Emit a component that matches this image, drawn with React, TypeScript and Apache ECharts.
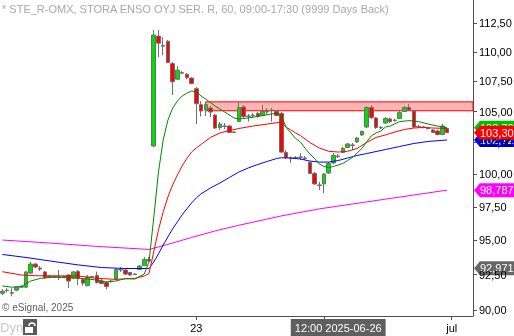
import { useEffect, useRef } from "react";
import * as echarts from "echarts";

const FONT = 'Arial, "Liberation Sans", sans-serif';

const title = "* STE_R-OMX, STORA ENSO OYJ SER. R, 60, 09:00-17:30 (9999 Days Back)";
const copyright = "\u00a9 eSignal, 2025";

const tradingDays = [
  "2025-06-13", "2025-06-16", "2025-06-17", "2025-06-18", "2025-06-19",
  "2025-06-23", "2025-06-24", "2025-06-25", "2025-06-26", "2025-06-27",
  "2025-06-30", "2025-07-01",
];
const sessionHours = ["09:00", "10:00", "11:00", "12:00", "13:00", "14:00", "15:00", "16:00", "17:00"];
const firstDayFrom = "13:00";
const lastDayTo = "13:00";
const tickDays = ["2025-06-23", "2025-06-26", "2025-07-01"];
const labelDays = ["2025-06-23", "2025-07-01"];
const monthNames = ["jan", "feb", "mar", "apr", "maj", "jun", "jul", "aug", "sep", "okt", "nov", "dec"];
const cursorTime = "2025-06-26 12:00";

// [open, high, low, close]
const ohlc: number[][] = [
  [91.18, 91.47, 91.04, 91.32], [91.40, 91.54, 91.25, 91.36], [91.18, 91.54, 90.96, 91.22],
  [91.40, 91.68, 91.32, 91.61], [91.61, 91.76, 91.54, 91.65], [91.61, 92.77, 91.54, 92.70],
  [92.62, 93.42, 92.55, 93.27], [93.27, 93.35, 92.98, 93.06], [92.98, 93.13, 92.77, 92.91],
  [92.70, 92.77, 92.19, 92.30], [92.37, 92.48, 92.26, 92.33], [92.37, 92.41, 92.26, 92.33],
  [92.37, 92.84, 92.12, 92.30], [92.37, 92.44, 92.26, 92.33], [92.48, 92.55, 91.54, 92.05],
  [92.26, 92.77, 92.19, 92.70], [92.73, 92.84, 91.76, 92.23], [92.15, 92.26, 91.72, 91.90],
  [91.72, 92.48, 91.68, 92.33], [92.37, 92.41, 92.26, 92.33], [92.44, 92.73, 91.87, 91.94],
  [92.05, 92.23, 91.83, 91.87], [91.94, 92.05, 91.47, 91.65], [92.05, 92.12, 91.94, 92.01],
  [92.19, 92.98, 92.12, 92.88], [92.88, 93.06, 92.70, 92.84], [92.84, 92.98, 92.48, 92.55],
  [92.66, 92.70, 92.44, 92.48], [92.55, 92.62, 92.48, 92.52], [92.88, 93.20, 92.84, 93.13],
  [93.16, 93.78, 93.13, 93.60], [93.60, 93.78, 93.42, 93.49],
  [102.24, 111.88, 102.16, 111.45], [111.36, 111.88, 109.55, 110.75], [110.54, 111.27, 109.72, 110.49],
  [110.92, 111.01, 109.04, 109.09], [109.00, 109.13, 106.37, 107.48], [107.69, 108.79, 107.61, 108.45],
  [108.24, 108.37, 108.11, 108.20], [108.11, 108.20, 107.69, 107.82], [107.78, 107.86, 107.28, 107.32],
  [106.90, 107.03, 104.00, 105.66], [105.58, 105.87, 104.61, 105.06], [105.14, 105.79, 104.65, 105.58],
  [105.30, 105.46, 104.57, 104.98], [104.73, 104.81, 103.60, 103.68], [103.72, 104.16, 103.52, 104.00],
  [103.84, 104.08, 103.60, 103.80], [103.84, 103.92, 103.28, 103.32], [103.36, 103.44, 103.28, 103.32],
  [104.20, 105.79, 104.16, 105.34], [105.38, 105.54, 104.49, 104.61], [104.65, 104.81, 104.20, 104.61],
  [104.73, 104.89, 104.49, 104.69], [104.85, 104.98, 104.53, 104.61], [104.69, 105.58, 104.65, 105.02],
  [105.02, 105.30, 104.73, 104.98], [105.14, 105.30, 104.20, 105.10], [105.02, 105.14, 104.65, 104.69],
  [104.85, 104.98, 101.68, 101.76], [101.72, 101.92, 101.21, 101.33], [101.29, 101.41, 100.90, 101.25],
  [101.33, 101.45, 101.21, 101.29], [101.37, 101.68, 101.13, 101.33], [101.29, 101.45, 101.13, 101.25],
  [100.94, 101.05, 100.04, 100.08], [100.08, 100.20, 99.19, 99.27], [99.19, 99.42, 98.80, 99.15],
  [99.27, 100.12, 98.57, 100.04], [100.12, 100.98, 100.04, 100.86], [100.90, 101.68, 100.82, 101.49],
  [101.45, 101.60, 101.29, 101.41], [101.72, 102.16, 101.68, 102.04], [102.12, 102.48, 102.08, 102.40],
  [102.32, 102.48, 101.92, 102.28], [102.56, 102.96, 102.48, 102.88], [103.12, 103.48, 103.04, 103.40],
  [103.76, 105.46, 103.68, 105.34], [105.34, 105.54, 104.41, 104.53], [104.49, 104.57, 103.60, 103.72],
  [103.72, 103.84, 103.60, 103.68], [104.08, 104.57, 104.00, 104.45], [104.41, 104.53, 104.08, 104.20],
  [104.32, 104.45, 104.20, 104.28], [104.45, 105.06, 104.41, 104.93], [105.02, 105.46, 104.98, 105.34],
  [105.34, 105.62, 105.06, 105.14], [105.06, 105.14, 103.68, 103.76], [103.80, 103.92, 103.68, 103.76],
  [103.76, 103.84, 103.64, 103.72], [103.68, 103.76, 103.56, 103.64], [103.52, 103.60, 103.28, 103.32],
  [103.44, 103.52, 103.08, 103.16], [103.16, 104.00, 103.12, 103.84], [103.64, 103.72, 103.28, 103.30],
];

// moving averages: [bar index, price]
const fastMA: number[][] = [
  [0, 91.70], [2, 91.61], [4, 91.65], [5, 91.87], [6, 92.05], [8, 92.24], [11, 92.33], [16, 92.26],
  [20, 92.12], [22, 91.98], [24, 92.05], [26, 92.23], [28, 92.19], [30, 92.55], [31, 93.42],
  [32, 96.68], [33, 100.19], [34, 102.72], [35, 104.32], [36, 105.30], [37, 105.87], [38, 106.29],
  [39, 106.53], [40, 106.70], [41, 106.66], [42, 106.29], [43, 106.03], [44, 105.75], [45, 105.46],
  [47, 104.98], [49, 104.49], [50, 104.41], [52, 104.49], [55, 104.69], [58, 104.89], [59, 104.67],
  [60, 103.72], [61, 103.28], [62, 102.84], [63, 102.56], [64, 102.06], [65, 101.61], [66, 101.25],
  [67, 100.82], [68, 100.62], [69, 100.55], [70, 100.62], [71, 100.74], [72, 100.86], [73, 101.09],
  [74, 101.33], [75, 101.68], [76, 102.04], [77, 102.56], [78, 103.04], [79, 103.28], [80, 103.44],
  [81, 103.76], [82, 103.84], [84, 104.20], [86, 104.28], [88, 104.20], [90, 104.00], [92, 103.84],
  [94, 103.70],
];
const midMA: number[][] = [
  [0, 92.72], [4, 92.48], [7, 92.43], [16, 92.41], [20, 92.24], [24, 92.17], [28, 92.24], [30, 92.41],
  [31, 92.59], [32, 94.15], [33, 95.78], [34, 97.13], [35, 98.27], [36, 99.19], [37, 99.96],
  [38, 100.66], [39, 101.25], [40, 101.76], [41, 102.08], [42, 102.36], [44, 102.92], [46, 103.28],
  [48, 103.48], [50, 103.64], [53, 103.84], [56, 104.00], [59, 104.16], [60, 103.74], [61, 103.52],
  [62, 103.28], [63, 103.08], [65, 102.52], [67, 102.08], [69, 101.82], [71, 101.76], [73, 101.82],
  [75, 102.04], [77, 102.52], [79, 102.92], [81, 103.12], [83, 103.36], [85, 103.56], [87, 103.68],
  [89, 103.72], [91, 103.68], [94, 103.64],
];
const slowMA: number[][] = [
  [0, 93.97], [5, 93.75], [10, 93.50], [16, 93.21], [21, 93.02], [26, 92.95], [31, 92.95],
  [32, 93.42], [33, 94.01], [34, 94.66], [35, 95.26], [36, 95.86], [37, 96.38], [38, 96.91],
  [39, 97.36], [40, 97.81], [41, 98.19], [42, 98.50], [44, 98.96], [46, 99.34], [48, 99.77],
  [50, 100.19], [52, 100.51], [54, 100.78], [56, 101.02], [58, 101.25], [59, 101.31], [61, 101.29],
  [63, 101.21], [65, 101.05], [67, 100.97], [69, 100.97], [71, 101.09], [73, 101.29], [75, 101.49],
  [77, 101.64], [79, 101.80], [81, 101.96], [84, 102.20], [87, 102.44], [90, 102.60], [94, 102.72],
];
const longMA: number[][] = [
  [0, 95.03], [10, 94.81], [20, 94.56], [31, 94.34], [33, 94.52], [36, 94.81], [40, 95.22],
  [45, 95.71], [50, 96.13], [59, 96.83], [67, 97.36], [77, 97.89], [81, 98.10], [94, 98.7879],
];
const extraLevel = 92.9712;

const priceTicks = [90, 92.5, 95, 97.5, 100, 102.5, 105, 107.5, 110, 112.5];
const priceRange = [89.58, 114.53];
const zoneStart = "2025-06-23 11:00";
const zoneHigh = 105.81;
const zoneLow = 105.08;

const fmt = (v: number, d: number) => v.toFixed(d).replace(".", ",");

function buildCategories() {
  const cats: string[] = [];
  tradingDays.forEach((d, i) => {
    let hs = sessionHours;
    if (i === 0) hs = sessionHours.slice(sessionHours.indexOf(firstDayFrom));
    if (i === tradingDays.length - 1) hs = sessionHours.slice(0, sessionHours.indexOf(lastDayTo) + 1);
    hs.forEach((h) => cats.push(`${d} ${h}`));
  });
  return cats;
}

export default function App() {
  const ref = useRef<HTMLDivElement>(null);
  useEffect(() => {
    if (!ref.current) return;
    const chart = echarts.init(ref.current, undefined, { renderer: "svg" });
    const categories = buildCategories();
    const tickIdx = new Set(tickDays.map((d) => categories.indexOf(`${d} ${sessionHours[0]}`)));
    const labelIdx = new Set(labelDays.map((d) => categories.indexOf(`${d} ${sessionHours[0]}`)));
    const lnTicks = priceTicks.map((v) => Math.log(v));
    const toLn = (arr: number[][]) => arr.map(([i, v]) => [i, Math.log(v)]);
    const candleData = ohlc.map(([o, h, l, c]) => [Math.log(o), Math.log(c), Math.log(l), Math.log(h)]);

    const lineSeries = (name: string, data: number[][], color: string) => ({
      name,
      type: "line",
      data: toLn(data),
      showSymbol: false,
      symbol: "none",
      silent: true,
      z: 4,
      lineStyle: { color, width: 1 },
    });

    chart.setOption({
      animation: false,
      grid: { left: 0, top: 0, right: 41, bottom: 20, outerBoundsMode: "none" },
      xAxis: {
        type: "category",
        data: categories,
        boundaryGap: true,
        axisLine: { show: true, lineStyle: { color: "#505050", width: 1 } },
        axisTick: {
          show: true,
          alignWithLabel: true,
          length: 4,
          interval: (i: number) => tickIdx.has(i),
          lineStyle: { color: "#505050" },
        },
        axisLabel: {
          interval: (i: number) => labelIdx.has(i),
          formatter: (v: string) => {
            const [d] = v.split(" ");
            const [, m, day] = d.split("-");
            return day === "01" ? monthNames[Number(m) - 1] : String(Number(day));
          },
          margin: 6,
          color: "#000",
          fontSize: 11,
          fontFamily: FONT,
        },
        splitLine: { show: false },
        axisPointer: {
          show: true,
          status: "show",
          value: cursorTime,
          type: "line",
          triggerTooltip: false,
          lineStyle: { opacity: 0, width: 0 },
          label: {
            show: true,
            formatter: (p: any) => {
              const [d, t] = String(p.value).split(" ");
              return `${t} ${d}`;
            },
            backgroundColor: "#5f5f5f",
            color: "#fff",
            fontSize: 11,
            fontFamily: FONT,
            padding: [3, 4, 3, 4],
            margin: 4,
            borderRadius: 0,
          },
        },
      },
      yAxis: {
        type: "value",
        position: "right",
        min: Math.log(priceRange[0]),
        max: Math.log(priceRange[1]),
        splitLine: { show: false },
        axisLine: { show: true, lineStyle: { color: "#505050", width: 1 } },
        axisTick: { show: true, length: 4, customValues: lnTicks, lineStyle: { color: "#505050" } },
        axisLabel: {
          customValues: lnTicks,
          formatter: (v: number) => fmt(Math.exp(v), 2),
          margin: 6,
          color: "#000",
          fontSize: 11,
          fontFamily: FONT,
        },
      },
      series: [
        {
          name: "zone",
          type: "line",
          data: [],
          z: 1,
          silent: true,
          markArea: {
            silent: true,
            itemStyle: { color: "#ffb4b4", borderColor: "#ff0000", borderWidth: 1 },
            data: [[{ xAxis: zoneStart, yAxis: Math.log(zoneHigh) }, { yAxis: Math.log(zoneLow) }]],
          },
        },
        {
          name: "price",
          type: "candlestick",
          data: candleData,
          barWidth: 4,
          z: 3,
          silent: true,
          itemStyle: {
            color: "#00e000",
            color0: "#ff0000",
            borderColor: "#6e6e6e",
            borderColor0: "#6e6e6e",
            borderWidth: 1,
          },
        },
        lineSeries("long", longMA, "#ff00ff"),
        lineSeries("slow", slowMA, "#0000ff"),
        lineSeries("mid", midMA, "#ff0000"),
        lineSeries("fast", fastMA, "#008800"),
      ],
    });

    const last = (a: number[][]) => a[a.length - 1][1];
    const tags = [
      { v: extraLevel, d: 4, c: "#666666" },
      { v: last(longMA), d: 4, c: "#ff00ff" },
      { v: last(slowMA), d: 4, c: "#0000ff" },
      { v: last(fastMA), d: 4, c: "#00c000" },
      { v: ohlc[ohlc.length - 1][3], d: 2, c: "#ff0000" },
    ];
    const tipX = 474;
    const graphics: any[] = tags.map((t, i) => {
      const y = chart.convertToPixel({ yAxisIndex: 0 }, Math.log(t.v)) as number;
      return {
        type: "group",
        z: 100 + i,
        children: [
          {
            type: "polygon",
            shape: {
              points: [[tipX, y], [tipX + 6, y - 7], [tipX + 50, y - 7], [tipX + 50, y + 7], [tipX + 6, y + 7]],
            },
            style: { fill: t.c },
          },
          {
            type: "text",
            x: tipX + 6,
            y,
            style: { text: fmt(t.v, t.d), fill: "#fff", fontSize: 11, fontFamily: FONT, verticalAlign: "middle" },
          },
        ],
      };
    });
    graphics.push(
      { type: "text", left: 2, top: 3, z: 50, style: { text: title, fill: "#a8a8a8", fontSize: 11, fontFamily: FONT } },
      { type: "text", left: 2, top: 302, z: 50, style: { text: copyright, fill: "#606060", fontSize: 10, fontFamily: FONT } },
      { type: "text", left: 0, top: 321, z: 50, style: { text: "Dyn", fill: "#c8c8c8", fontSize: 13, fontFamily: FONT } },
      { type: "rect", shape: { x: 23, y: 319, width: 14, height: 16 }, z: 50, style: { fill: "#5a5a5a" } },
      { type: "rect", shape: { x: 25, y: 327, width: 8, height: 6 }, z: 51, style: { fill: "#fff" } },
      { type: "arc", shape: { cx: 32, cy: 326, r: 3, startAngle: Math.PI, endAngle: 0 }, z: 51, style: { stroke: "#fff", lineWidth: 1.5, fill: "none" } }
    );
    chart.setOption({ graphic: graphics });

    return () => chart.dispose();
  }, []);

  return <div ref={ref} style={{ position: "fixed", left: 0, top: 0, width: 514, height: 336 }} />;
}
